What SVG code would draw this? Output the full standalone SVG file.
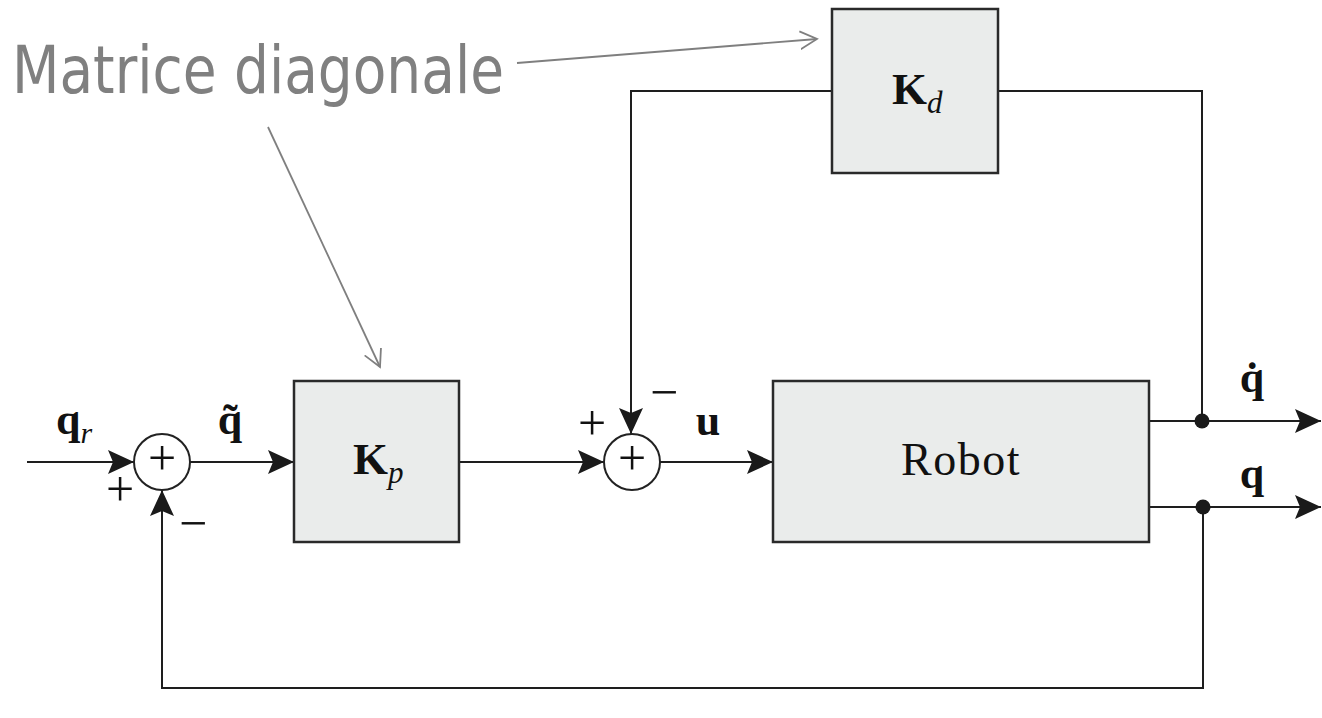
<svg xmlns="http://www.w3.org/2000/svg" width="1322" height="718" viewBox="0 0 1322 718">
  <style>
    .block { fill: #eaeceb; stroke: #2a2a2a; stroke-width: 2.5; }
    .sum { fill: #ffffff; stroke: #222222; stroke-width: 2; }
    .wire { fill: none; stroke: #1e1e1e; stroke-width: 2; }
    .lead { fill: none; stroke: #7f7f7f; stroke-width: 1.8; }
    .math { font-family: "Liberation Serif", "Times New Roman", serif; fill: #111111; }
    .bold { font-weight: bold; }
    .ital { font-style: italic; }
    .sign { font-family: "Liberation Serif", "Times New Roman", serif; font-size: 50px; fill: #111111; text-anchor: middle; }
    .note { font-family: "DejaVu Sans", "Noto Sans", sans-serif; font-stretch: condensed; font-size: 66px; fill: #808080; }
  </style>
  <defs>
    <marker id="arrow" markerUnits="userSpaceOnUse" markerWidth="28" markerHeight="26" refX="26" refY="12" orient="auto">
      <path d="M0,0 L26,12 L0,24 L5,12 Z" fill="#1a1a1a"/>
    </marker>
    <marker id="open" markerUnits="userSpaceOnUse" markerWidth="20" markerHeight="22" refX="17" refY="10" orient="auto">
      <path d="M0,1 L17,10 L0,19" fill="none" stroke="#7f7f7f" stroke-width="1.8"/>
    </marker>
  </defs>

  <!-- signal connectors -->
  <g id="connectors">
    <path class="wire" d="M27,462 H134" marker-end="url(#arrow)"/>
    <path class="wire" d="M190,462 H294" marker-end="url(#arrow)"/>
    <path class="wire" d="M459,462 H604" marker-end="url(#arrow)"/>
    <path class="wire" d="M660,462 H773" marker-end="url(#arrow)"/>
    <path class="wire" d="M1149,421 H1321" marker-end="url(#arrow)"/>
    <path class="wire" d="M1149,507 H1321" marker-end="url(#arrow)"/>
    <!-- velocity feedback through Kd -->
    <path class="wire" d="M1202,421 V91 H998"/>
    <path class="wire" d="M832,91 H631 V434" marker-end="url(#arrow)"/>
    <!-- position feedback -->
    <path class="wire" d="M1203,507 V688 H162 V490" marker-end="url(#arrow)"/>
    <circle cx="1202" cy="421" r="7.5" fill="#1a1a1a"/>
    <circle cx="1203" cy="507" r="7.5" fill="#1a1a1a"/>
  </g>

  <!-- summing junction 1 -->
  <g id="sum1">
    <circle class="sum" cx="162" cy="462" r="28"/>
    <text class="sign" x="162" y="475">+</text>
    <text class="sign" x="120" y="506">+</text>
    <text class="sign" x="193" y="540">−</text>
  </g>

  <!-- summing junction 2 -->
  <g id="sum2">
    <circle class="sum" cx="632" cy="462" r="28"/>
    <text class="sign" x="632" y="475">+</text>
    <text class="sign" x="592" y="440">+</text>
    <text class="sign" x="664" y="409">−</text>
  </g>

  <g id="kp">
    <rect class="block" x="294" y="381" width="165" height="161"/>
    <text class="math bold" x="353" y="474" font-size="45">K<tspan class="ital" font-weight="normal" font-size="31" dy="9">p</tspan></text>
  </g>

  <g id="kd">
    <rect class="block" x="832" y="9" width="166" height="164"/>
    <text class="math bold" x="892" y="104" font-size="45">K<tspan class="ital" font-weight="normal" font-size="31" dy="9">d</tspan></text>
  </g>

  <g id="robot">
    <rect class="block" x="773" y="381" width="376" height="161"/>
    <text class="math" x="961" y="475" font-size="46" letter-spacing="1.5" text-anchor="middle">Robot</text>
  </g>

  <!-- signal labels -->
  <g id="labels">
    <text class="math bold" x="56" y="434" font-size="44">q<tspan class="ital" font-weight="normal" font-size="30" dy="9">r</tspan></text>
    <text class="math bold" x="230" y="434" font-size="44" text-anchor="middle">q̃</text>
    <text class="math bold" x="708" y="435" font-size="44" text-anchor="middle">u</text>
    <text class="math bold" x="1252" y="392" font-size="44" text-anchor="middle">q̇</text>
    <text class="math bold" x="1252" y="488" font-size="44" text-anchor="middle">q</text>
  </g>

  <!-- annotation -->
  <g id="note">
    <text class="note" x="12" y="93" textLength="492" lengthAdjust="spacingAndGlyphs">Matrice diagonale</text>
    <path class="lead" d="M517,63 L817,39" marker-end="url(#open)"/>
    <path class="lead" d="M268,127 L380,367" marker-end="url(#open)"/>
  </g>
</svg>
